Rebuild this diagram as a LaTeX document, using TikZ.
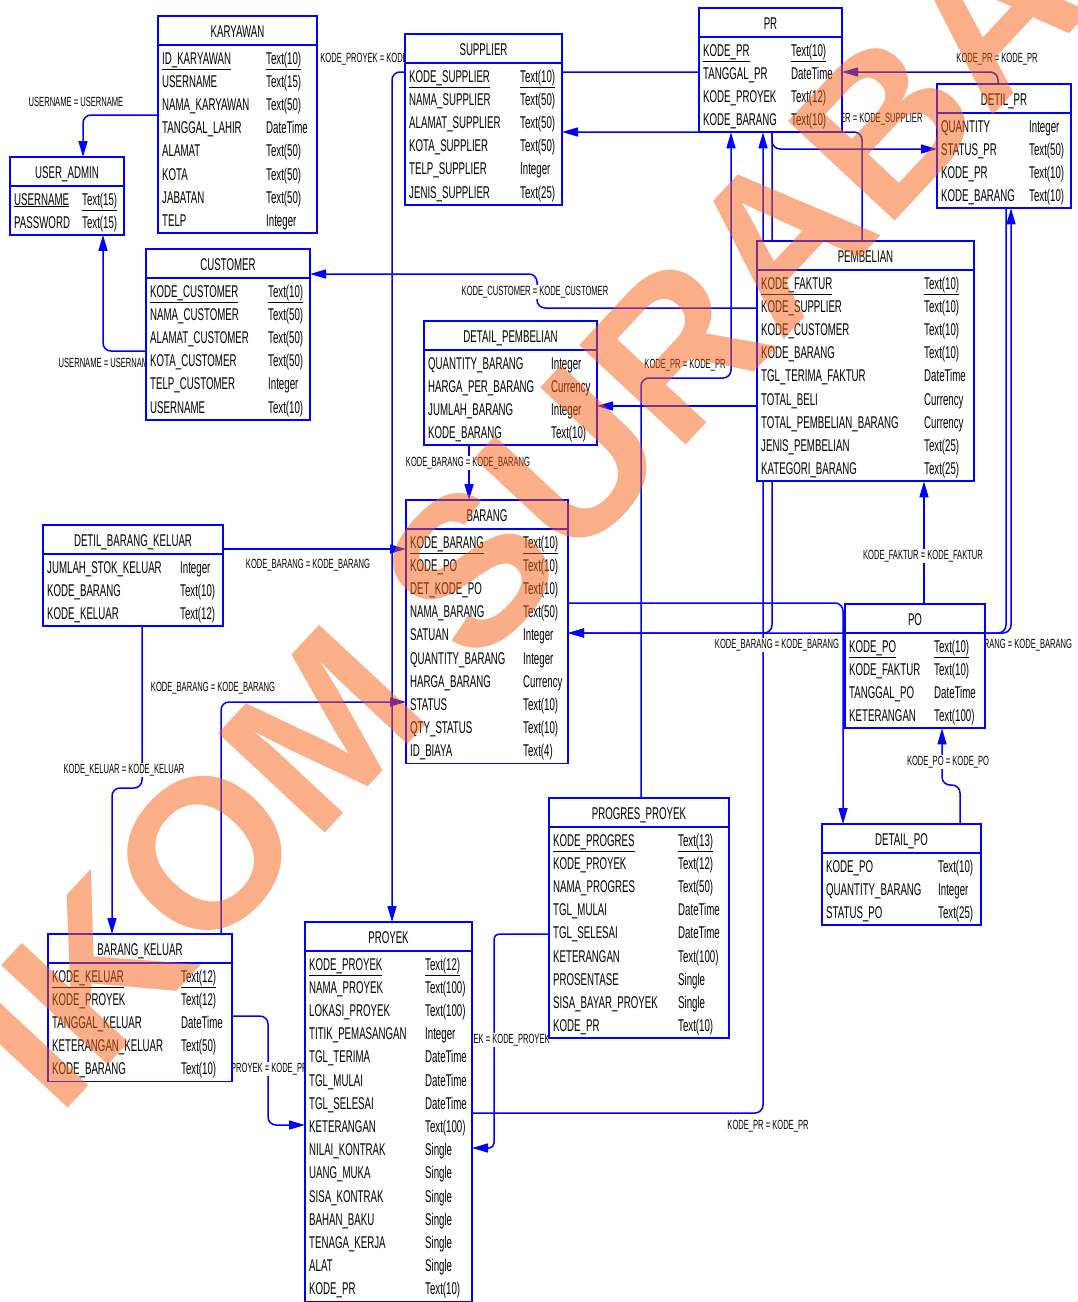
\documentclass[tikz,border=0pt]{standalone}
\usepackage{fontspec}
\setmainfont{Liberation Sans}[FakeStretch=0.57]
\newfontfamily\wmfont{Liberation Sans}
\usetikzlibrary{arrows.meta,backgrounds}

\definecolor{garis}{RGB}{0,0,255}
\definecolor{wm}{RGB}{245,95,20}

\tikzset{
  tabel/.style={draw=garis, line width=1.8pt, fill=white, inner sep=0pt, outer sep=0pt},
  tabgaris/.style={draw=garis, line width=1.8pt},
  judul/.style={anchor=base, inner sep=0pt, font=\fontsize{17}{20}\selectfont},
  kolom/.style={anchor=base west, inner sep=0pt, font=\fontsize{17}{20}\selectfont},
  rel/.style={draw=garis, line width=1.5pt, rounded corners=8pt, -{Triangle[length=16pt,width=9pt]}},
  ket/.style={fill=white, inner sep=1pt, font=\fontsize{13.3}{15}\selectfont},
  watermark/.style={text=wm, opacity=0.5, rotate=47, inner sep=0pt, font=\wmfont\bfseries\fontsize{212}{212}\selectfont}
}

\newcommand\kunci[1]{\underline{#1}}
% #1 name, #2 title, #3 left, #4 top, #5 right, #6 rows, #7 type column, #8 fields
\newcommand\entitas[8]{%
  \node[tabel, anchor=north west, minimum width={#5-#3}, minimum height={31.5+23.2*#6}] (#1) at (#3,#4) {};
  \draw[tabgaris] (#3,#4+29) -- (#5,#4+29);
  \node[judul] at ({(#3+#5)/2},#4+21) {#2};
  \foreach \nama/\tipe [count=\i from 0] in {#8} {
    \node[kolom] at (#3+4,#4+48+23.2*\i) {\nama};
    \node[kolom] at (#7,#4+48+23.2*\i) {\tipe};
  }
}

\begin{document}
\begin{tikzpicture}[x=1pt,y=-1pt]
\useasboundingbox (0,0) rectangle (1078,1302);

% Tables
\entitas{kary}{KARYAWAN}{158}{16}{317}{8}{266}{\kunci{ID\_KARYAWAN}/\kunci{Text(10)},USERNAME/Text(15),NAMA\_KARYAWAN/Text(50),TANGGAL\_LAHIR/DateTime,ALAMAT/Text(50),KOTA/Text(50),JABATAN/Text(50),TELP/Integer}
\entitas{uadm}{USER\_ADMIN}{10}{157}{124}{2}{82}{\kunci{USERNAME}/\kunci{Text(15)},PASSWORD/Text(15)}
\entitas{cust}{CUSTOMER}{146}{249}{310}{6}{268}{\kunci{KODE\_CUSTOMER}/\kunci{Text(10)},NAMA\_CUSTOMER/Text(50),ALAMAT\_CUSTOMER/Text(50),KOTA\_CUSTOMER/Text(50),TELP\_CUSTOMER/Integer,USERNAME/Text(10)}
\entitas{supp}{SUPPLIER}{405}{34}{562}{6}{520}{\kunci{KODE\_SUPPLIER}/\kunci{Text(10)},NAMA\_SUPPLIER/Text(50),ALAMAT\_SUPPLIER/Text(50),KOTA\_SUPPLIER/Text(50),TELP\_SUPPLIER/Integer,JENIS\_SUPPLIER/Text(25)}
\entitas{pr}{PR}{699}{8}{842}{4}{791}{\kunci{KODE\_PR}/\kunci{Text(10)},TANGGAL\_PR/DateTime,KODE\_PROYEK/Text(12),KODE\_BARANG/Text(10)}
\entitas{dpr}{DETIL\_PR}{937}{84}{1071}{4}{1029}{QUANTITY/Integer,STATUS\_PR/Text(50),KODE\_PR/Text(10),KODE\_BARANG/Text(10)}
\entitas{pemb}{PEMBELIAN}{757}{241}{974}{9}{924}{\kunci{KODE\_FAKTUR}/\kunci{Text(10)},KODE\_SUPPLIER/Text(10),KODE\_CUSTOMER/Text(10),KODE\_BARANG/Text(10),TGL\_TERIMA\_FAKTUR/DateTime,TOTAL\_BELI/Currency,TOTAL\_PEMBELIAN\_BARANG/Currency,JENIS\_PEMBELIAN/Text(25),KATEGORI\_BARANG/Text(25)}
\entitas{dpemb}{DETAIL\_PEMBELIAN}{424}{321}{597}{4}{551}{QUANTITY\_BARANG/Integer,HARGA\_PER\_BARANG/Currency,JUMLAH\_BARANG/Integer,KODE\_BARANG/Text(10)}
\entitas{brg}{BARANG}{406}{500}{568}{10}{523}{\kunci{KODE\_BARANG}/\kunci{Text(10)},KODE\_PO/Text(10),DET\_KODE\_PO/Text(10),NAMA\_BARANG/Text(50),SATUAN/Integer,QUANTITY\_BARANG/Integer,HARGA\_BARANG/Currency,STATUS/Text(10),QTY\_STATUS/Text(10),ID\_BIAYA/Text(4)}
\entitas{dbk}{DETIL\_BARANG\_KELUAR}{43}{525}{223}{3}{180}{JUMLAH\_STOK\_KELUAR/Integer,KODE\_BARANG/Text(10),KODE\_KELUAR/Text(12)}
\entitas{po}{PO}{845}{604}{985}{4}{934}{\kunci{KODE\_PO}/\kunci{Text(10)},KODE\_FAKTUR/Text(10),TANGGAL\_PO/DateTime,KETERANGAN/Text(100)}
\entitas{dpo}{DETAIL\_PO}{822}{824}{981}{3}{938}{KODE\_PO/Text(10),QUANTITY\_BARANG/Integer,STATUS\_PO/Text(25)}
\entitas{prog}{PROGRES\_PROYEK}{549}{798}{729}{9}{678}{\kunci{KODE\_PROGRES}/\kunci{Text(13)},KODE\_PROYEK/Text(12),NAMA\_PROGRES/Text(50),TGL\_MULAI/DateTime,TGL\_SELESAI/DateTime,KETERANGAN/Text(100),PROSENTASE/Single,SISA\_BAYAR\_PROYEK/Single,KODE\_PR/Text(10)}
\entitas{bk}{BARANG\_KELUAR}{48}{934}{232}{5}{181}{\kunci{KODE\_KELUAR}/\kunci{Text(12)},KODE\_PROYEK/Text(12),TANGGAL\_KELUAR/DateTime,KETERANGAN\_KELUAR/Text(50),KODE\_BARANG/Text(10)}
\entitas{proy}{PROYEK}{305}{922}{472}{15}{425}{\kunci{KODE\_PROYEK}/\kunci{Text(12)},NAMA\_PROYEK/Text(100),LOKASI\_PROYEK/Text(100),TITIK\_PEMASANGAN/Integer,TGL\_TERIMA/DateTime,TGL\_MULAI/DateTime,TGL\_SELESAI/DateTime,KETERANGAN/Text(100),NILAI\_KONTRAK/Single,UANG\_MUKA/Single,SISA\_KONTRAK/Single,BAHAN\_BAKU/Single,TENAGA\_KERJA/Single,ALAT/Single,KODE\_PR/Text(10)}

% References
\begin{pgfonlayer}{background}
\draw[rel] (kary.west |- 0,115) -- (83,115) -- (uadm.north -| 83,0);
\node[ket] at (76,102) {USERNAME = USERNAME};
\draw[rel] (cust.west |- 0,351) -- (103,351) -- (uadm.south -| 103,0);
\node[ket] at (106,363) {USERNAME = USERNAME};
\draw[rel] (pr.west |- 0,72) -- (392,72) -- (proy.north -| 392,0);
\node[ket] at (382,59) {KODE\_PROYEK = KODE\_PROYEK};
\draw[rel] (pemb.north -| 862,0) -- (862,132) -- (supp.east |- 0,132);
\node[ket] at (855,119) {KODE\_SUPPLIER = KODE\_SUPPLIER};
\draw[rel] (dpr.north -| 998,0) -- (998,72) -- (pr.east |- 0,72);
\node[ket] at (997,59) {KODE\_PR = KODE\_PR};
\draw[rel] (pemb.west |- 0,308) -- (537,308) -- (537,274) -- (cust.east |- 0,274);
\node[ket] at (535,292) {KODE\_CUSTOMER = KODE\_CUSTOMER};
\draw[rel] (prog.north -| 641,0) -- (641,378) -- (731,378) -- (pr.south -| 731,0);
\node[ket] at (685,365) {KODE\_PR = KODE\_PR};
\draw[rel] (proy.east |- 0,1113) -- (763,1113) -- (pr.south -| 763,0);
\node[ket] at (768,1126) {KODE\_PR = KODE\_PR};
\draw[rel] (pr.south -| 772,0) -- (772,149) -- (dpr.west |- 0,149);
\draw[rel] (pr.south -| 772,0) -- (772,633) -- (brg.east |- 0,633);
\node[ket] at (777,645) {KODE\_BARANG = KODE\_BARANG};
\draw[rel] (dpr.south -| 1006,0) -- (1006,633) -- (brg.east |- 0,633);
\draw[rel] (po.east |- 0,633) -- (1011,633) -- (dpr.south -| 1011,0);
\node[ket] at (1010,645) {KODE\_BARANG = KODE\_BARANG};
\draw[rel] (pemb.west |- 0,406) -- (dpemb.east |- 0,406);
\draw[rel] (dpemb.south -| 469,0) -- (brg.north -| 469,0);
\node[ket] at (468,463) {KODE\_BARANG = KODE\_BARANG};
\draw[rel] (dbk.east |- 0,549) -- (brg.west |- 0,549);
\node[ket] at (308,565) {KODE\_BARANG = KODE\_BARANG};
\draw[rel] (dbk.south -| 142,0) -- (142,788) -- (112,788) -- (bk.north -| 112,0);
\node[ket] at (124,770) {KODE\_KELUAR = KODE\_KELUAR};
\draw[rel] (bk.north -| 221,0) -- (221,702) -- (brg.west |- 0,702);
\node[ket] at (213,688) {KODE\_BARANG = KODE\_BARANG};
\draw[rel] (bk.east |- 0,1016) -- (268,1016) -- (268,1125) -- (proy.west |- 0,1125);
\node[ket] at (267,1069) {KODE\_PROYEK = KODE\_PROYEK};
\draw[rel, rounded corners=5pt] (prog.west |- 0,934) -- (494,934) -- (494,1148) -- (proy.east |- 0,1148);
\node[ket] at (488,1040) {KODE\_PROYEK = KODE\_PROYEK};
\draw[rel] (po.north -| 924,0) -- (pemb.south -| 924,0);
\node[ket] at (923,556) {KODE\_FAKTUR = KODE\_FAKTUR};
\draw[rel] (dpo.north -| 960,0) -- (960,785) -- (942,785) -- (po.south -| 942,0);
\node[ket] at (948,762) {KODE\_PO = KODE\_PO};
\draw[rel] (brg.east |- 0,603) -- (843,603) -- (dpo.north -| 843,0);
\end{pgfonlayer}

% Watermark
\node[watermark] (wm) at (610,420) {IKOM SURABAYA};

\end{tikzpicture}
\end{document}
